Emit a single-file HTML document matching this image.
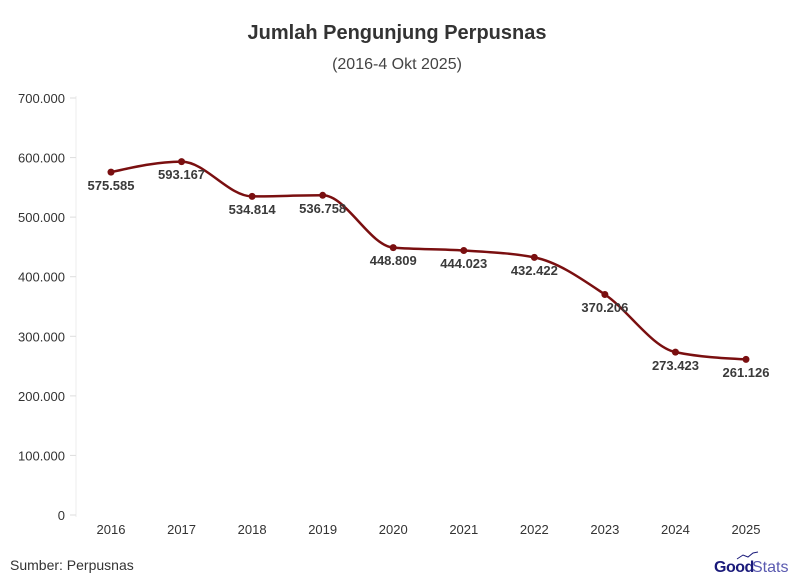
<!DOCTYPE html>
<html><head><meta charset="utf-8"><style>
body{margin:0;background:#fff;}
svg{display:block;font-family:"Liberation Sans",sans-serif;}
</style></head><body>
<svg width="794" height="586" viewBox="0 0 794 586" xmlns="http://www.w3.org/2000/svg">
<rect width="794" height="586" fill="#fff"/>
<text x="397" y="39" text-anchor="middle" font-size="20" font-weight="bold" fill="#333">Jumlah Pengunjung Perpusnas</text>
<text x="397" y="69" text-anchor="middle" font-size="16" fill="#444">(2016-4 Okt 2025)</text>
<line x1="76" y1="96" x2="76" y2="517" stroke="#eee" stroke-width="1"/>
<g stroke="#ddd" stroke-width="1">
<line x1="70" y1="98" x2="76" y2="98"/><line x1="70" y1="157.6" x2="76" y2="157.6"/><line x1="70" y1="217.1" x2="76" y2="217.1"/><line x1="70" y1="276.7" x2="76" y2="276.7"/><line x1="70" y1="336.3" x2="76" y2="336.3"/><line x1="70" y1="395.9" x2="76" y2="395.9"/><line x1="70" y1="455.4" x2="76" y2="455.4"/><line x1="70" y1="515" x2="76" y2="515"/>
</g>
<g font-size="13" fill="#333" text-anchor="end">
<text x="65" y="103">700.000</text><text x="65" y="162.6">600.000</text><text x="65" y="222.1">500.000</text><text x="65" y="281.7">400.000</text><text x="65" y="341.3">300.000</text><text x="65" y="400.9">200.000</text><text x="65" y="460.4">100.000</text><text x="65" y="520">0</text>
</g>
<g font-size="13" fill="#333" text-anchor="middle">
<text x="111" y="534">2016</text><text x="181.56" y="534">2017</text><text x="252.11" y="534">2018</text><text x="322.67" y="534">2019</text><text x="393.22" y="534">2020</text><text x="463.78" y="534">2021</text><text x="534.33" y="534">2022</text><text x="604.89" y="534">2023</text><text x="675.44" y="534">2024</text><text x="746" y="534">2025</text>
</g>
<path d="M111,172.1 C134.52,166.85 158.04,161.6 181.56,161.6 C205.08,161.6 228.59,196.4 252.11,196.4 C275.63,196.4 299.15,195.3 322.67,195.3 C346.19,195.3 369.7,245.67 393.22,247.6 C416.74,249.53 440.26,248.87 463.78,250.5 C487.3,252.13 510.81,252.8 534.33,257.4 C557.85,262 581.37,278.72 604.89,294.5 C628.41,310.28 651.92,347.23 675.44,352.1 C698.96,356.97 722.48,358.18 746,359.4" fill="none" stroke="#7a0f10" stroke-width="2.5"/>
<g fill="#7a0f10">
<circle cx="111" cy="172.1" r="3.5"/><circle cx="181.56" cy="161.6" r="3.5"/><circle cx="252.11" cy="196.4" r="3.5"/><circle cx="322.67" cy="195.3" r="3.5"/><circle cx="393.22" cy="247.6" r="3.5"/><circle cx="463.78" cy="250.5" r="3.5"/><circle cx="534.33" cy="257.4" r="3.5"/><circle cx="604.89" cy="294.5" r="3.5"/><circle cx="675.44" cy="352.1" r="3.5"/><circle cx="746" cy="359.4" r="3.5"/>
</g>
<g font-size="13" font-weight="bold" fill="#3a3a3a" text-anchor="middle">
<text x="111" y="190">575.585</text><text x="181.56" y="179">593.167</text><text x="252.11" y="214">534.814</text><text x="322.67" y="213">536.758</text><text x="393.22" y="265">448.809</text><text x="463.78" y="268">444.023</text><text x="534.33" y="275">432.422</text><text x="604.89" y="312">370.206</text><text x="675.44" y="370">273.423</text><text x="746" y="377">261.126</text>
</g>
<text x="10" y="570" font-size="14" fill="#333">Sumber: Perpusnas</text>
<text x="714" y="572" font-size="16" font-weight="bold" fill="#1a1a7a" letter-spacing="-0.5">Good</text>
<text x="752" y="572" font-size="16" fill="#5a5ab0">Stats</text>
<polyline points="737,559 743,555 748,557 753,553 758,552" fill="none" stroke="#1a1a7a" stroke-width="1"/>
</svg>
</body></html>
